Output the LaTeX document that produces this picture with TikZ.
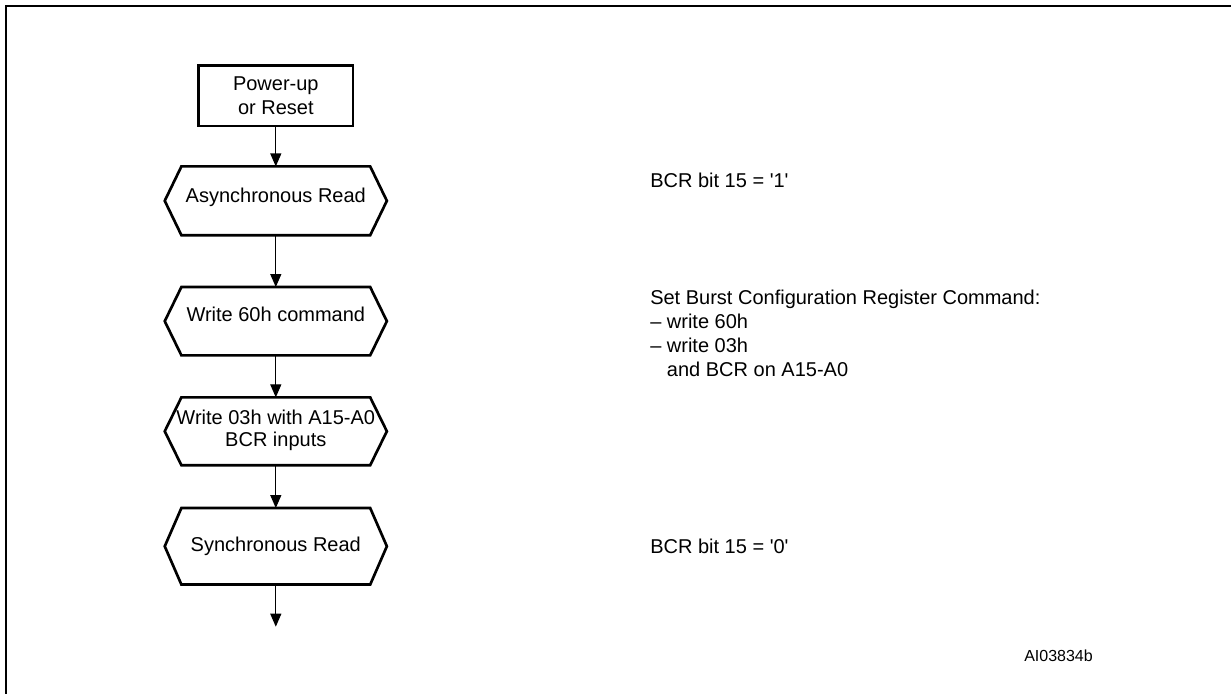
\documentclass[tikz,border=0pt]{standalone}
\usepackage{fontspec}
\setmainfont{Liberation Sans}[Ligatures=TeXOff]
\usetikzlibrary{arrows.meta}
\tikzset{
  box/.style={draw, line width=2pt, minimum width=115.8pt, minimum height=45.2pt, inner sep=0pt, align=center, font=\fontsize{15pt}{18pt}\selectfont},
  hexa/.style={minimum width=141.2pt, inner sep=0pt, minimum height=#1},
  hexline/.style={line width=2pt},
  lbl/.style={font=\fontsize{15pt}{17pt}\selectfont, align=center, anchor=base, inner sep=0pt},
  note/.style={font=\fontsize{15pt}{18pt}\selectfont, align=left, anchor=base west, inner sep=0pt},
  flow/.style={line width=0.9pt, -{Triangle[width=8.25pt,length=9.75pt]}},
  frameline/.style={line width=1.5pt}
}
\newcommand\hexdraw[1]{\draw[hexline] (#1.north west) -- (#1.north east) -- ([xshift=12.5pt]#1.east) -- (#1.south east) -- (#1.south west) -- ([xshift=-12.5pt]#1.west) -- cycle;}
\begin{document}
\begin{tikzpicture}[x=0.75pt,y=-0.75pt]
\useasboundingbox (0,0) rectangle (1231,693);
\clip (0,0) rectangle (1231,693);
\draw[frameline] (5.5,700) -- (5.5,5.5) -- (1240,5.5);

\node[box] (pwr) at (275.8,95.8) {Power-up\\or Reset};
\node[hexa=51.2pt] (h1) at (275.8,200.8) {};
\node[hexa=50.8pt] (h2) at (275.8,321.2) {};
\node[hexa=50.5pt] (h3) at (275.8,431.3) {};
\node[hexa=57pt] (h4) at (275.8,546.3) {};
\hexdraw{h1}
\hexdraw{h2}
\hexdraw{h3}
\hexdraw{h4}
\coordinate (end) at (275.8,626.7);

\node[lbl] (t1) at (275.8,202.7) {Asynchronous Read};
\node[lbl] (t2) at (275.8,321) {Write 60h command};
\node[lbl] (t3) at (275.8,446.7) {Write 03h with A15-A0\\BCR inputs};
\node[lbl] (t4) at (275.8,551) {Synchronous Read};

\draw[flow] (pwr.south) -- (h1.north);
\draw[flow] (h1.south) -- (h2.north);
\draw[flow] (h2.south) -- (h3.north);
\draw[flow] (h3.south) -- (h4.north);
\draw[flow] (h4.south) -- (end);

\node[note] (n1) at (650,187) {BCR bit 15 = '1'};
\node[note] (n2) at (650,376.5) {Set Burst Configuration Register Command:\\– write 60h\\– write 03h\\\phantom{– }and BCR on A15-A0};
\node[note] (n3) at (650,553) {BCR bit 15 = '0'};
\node[font=\fontsize{12pt}{14pt}\selectfont, anchor=base west, inner sep=0pt] (id) at (1024,661) {AI03834b};
\end{tikzpicture}
\end{document}
